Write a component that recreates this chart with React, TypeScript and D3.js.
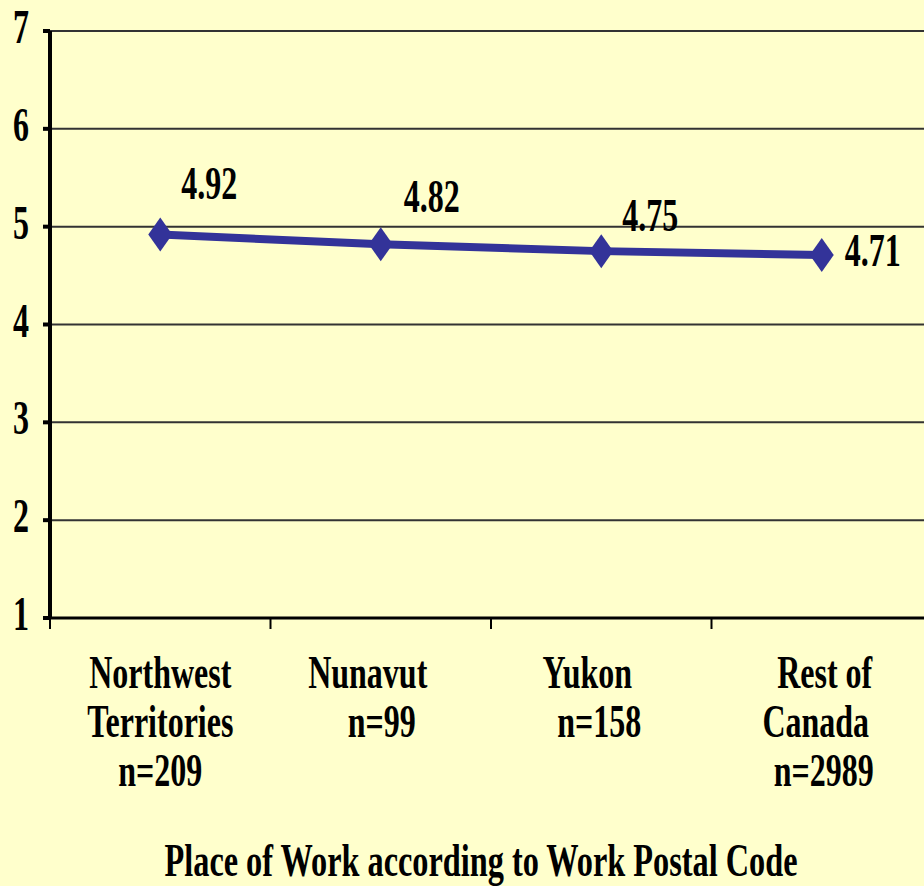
import * as d3 from 'd3';
import React from 'react';

// categories (multi-line labels) and values
const categories = ['Northwest Territories', 'Nunavut', 'Yukon', 'Rest of Canada'];
const categoryLines = [
  ['Northwest', 'Territories', 'n=209'],
  ['Nunavut', 'n=99'],
  ['Yukon', 'n=158'],
  ['Rest of', 'Canada', 'n=2989'],
];
const values = [4.92, 4.82, 4.75, 4.71];
const valueLabels = ['4.92', '4.82', '4.75', '4.71'];
const yTicks = [1, 2, 3, 4, 5, 6, 7];
const xTitle = 'Place of Work according to Work Postal Code';

// label placement (excel style: above-right for the first three, right for the last)
const labelOffsets = [
  { dx: 21, dy: -35 },
  { dx: 23, dy: -32 },
  { dx: 21, dy: -20 },
  { dx: 23, dy: 11 },
];
const lineDx = [
  [0, 0, 0],
  [-13, 1],
  [-14, -2],
  [3, -6, 2],
];

const WIDTH = 924;
const HEIGHT = 886;
const BG = '#FFFFCC';
const LINE = '#333399';
const FONT = '"Liberation Serif", "Times New Roman", serif';
const STRETCH = 1.42;

const margin = { top: 31, right: -8, bottom: 268, left: 50 };

const Txt: React.FC<{
  x: number;
  y: number;
  anchor?: string;
  size?: number;
  stretch?: number;
  children: React.ReactNode;
}> = ({ x, y, anchor = 'start', size = 32, stretch = STRETCH, children }) => (
  <g transform={`translate(${x},${y}) scale(1,${stretch})`}>
    <text
      x={0}
      y={0}
      textAnchor={anchor as any}
      fontFamily={FONT}
      fontWeight="bold"
      fontSize={size}
      fill="#000"
    >
      {children}
    </text>
  </g>
);

export default function App() {
  const innerWidth = WIDTH - margin.left - margin.right;
  const innerHeight = HEIGHT - margin.top - margin.bottom;

  const x = d3.scaleBand().domain(categories).range([0, innerWidth]).padding(0);
  const y = d3.scaleLinear().domain([1, 7]).range([innerHeight, 0]);

  const cx = (c: string) => (x(c) || 0) + x.bandwidth() / 2;
  const line = d3
    .line<number>()
    .x((_, i) => cx(categories[i]))
    .y((d) => y(d));

  const boundaries = categories.map((c) => x(c) || 0).concat([innerWidth]);

  return (
    <div style={{ position: 'absolute', left: 0, top: 0, width: WIDTH, height: HEIGHT }}>
      <svg width={WIDTH} height={HEIGHT} style={{ display: 'block' }}>
        <rect width={WIDTH} height={HEIGHT} fill={BG} />
        <g transform={`translate(${margin.left},${margin.top})`}>
          {/* grid lines */}
          {yTicks
            .filter((t) => t > 1)
            .map((t) => (
              <line key={t} x1={0} x2={innerWidth} y1={y(t)} y2={y(t)} stroke="#333333" strokeWidth={2} />
            ))}
          {/* y axis */}
          <line x1={0} x2={0} y1={0} y2={innerHeight} stroke="#000" strokeWidth={4} />
          {yTicks.map((t) => (
            <g key={t}>
              <line x1={-7} x2={0} y1={y(t)} y2={y(t)} stroke="#000" strokeWidth={4} />
              <Txt x={-21} y={y(t) + 12} anchor="end" size={32} stretch={1.5}>
                {t}
              </Txt>
            </g>
          ))}
          {/* x axis */}
          <line x1={0} x2={innerWidth} y1={innerHeight} y2={innerHeight} stroke="#000" strokeWidth={3} />
          {boundaries.map((b, i) => (
            <line key={i} x1={b} x2={b} y1={innerHeight} y2={innerHeight + 11} stroke="#000" strokeWidth={2} />
          ))}
          {categoryLines.map((lines, i) =>
            lines.map((l, j) => (
              <Txt key={`${i}-${j}`} x={cx(categories[i]) + lineDx[i][j]} y={657 + j * 49} anchor="middle">
                {l}
              </Txt>
            )),
          )}
          {/* series */}
          <path d={line(values) || ''} fill="none" stroke={LINE} strokeWidth={8} />
          {values.map((v, i) => {
            const px = cx(categories[i]);
            const py = y(v);
            return (
              <path
                key={i}
                d={`M${px},${py - 17}L${px + 12},${py}L${px},${py + 17}L${px - 12},${py}Z`}
                fill={LINE}
              />
            );
          })}
          {values.map((v, i) => (
            <Txt key={i} x={cx(categories[i]) + labelOffsets[i].dx} y={y(v) + labelOffsets[i].dy}>
              {valueLabels[i]}
            </Txt>
          ))}
        </g>
        <Txt x={481} y={876} anchor="middle" size={32.3}>
          {xTitle}
        </Txt>
      </svg>
    </div>
  );
}
